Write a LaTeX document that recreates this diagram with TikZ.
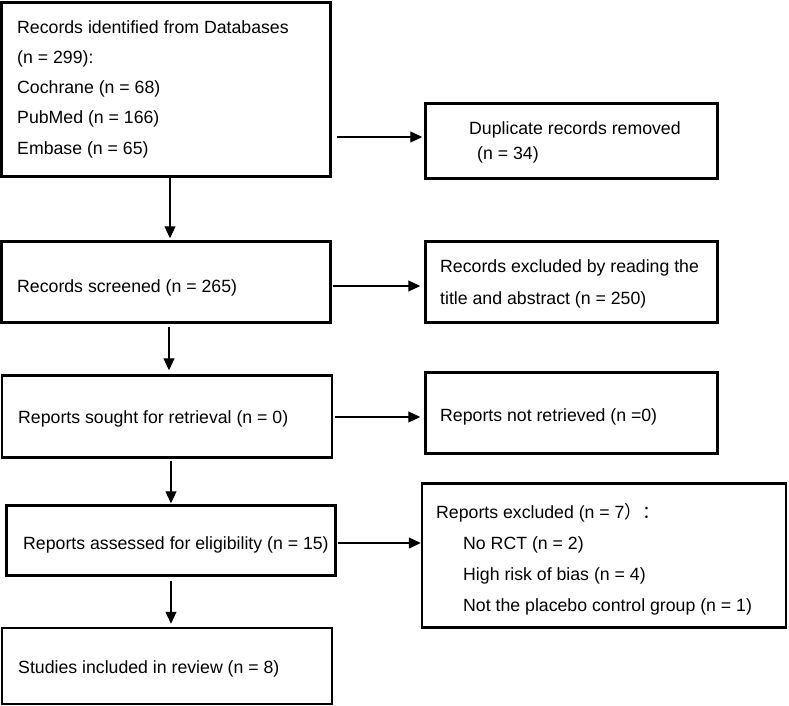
\documentclass[tikz,border=0pt]{standalone}
\usepackage{fontspec}
\setmainfont{Liberation Sans}
\newfontfamily\cjk{Noto Sans CJK SC}
\usetikzlibrary{arrows.meta}
\begin{document}
\begin{tikzpicture}[x=1pt,y=-1pt,
  box/.style={draw, line width=2.5pt, inner sep=0pt, rectangle},
  txt/.style={inner sep=0pt, anchor=west, align=left, font=\fontsize{17.7}{30.25}\selectfont},
  arr/.style={line width=1.2pt, -{Triangle[length=12pt,width=11pt]}}]
\useasboundingbox (0,0) rectangle (789,706);
% boxes
\node[box, minimum width=329pt, minimum height=174pt] (b1) at (166,89.5) {};
\node[box, minimum width=292pt, minimum height=75pt] (dup) at (571.5,141) {};
\node[box, minimum width=329pt, minimum height=81pt] (b2) at (166,282) {};
\node[box, minimum width=292pt, minimum height=81pt] (excl) at (571.5,282) {};
\node[box, minimum width=330pt, minimum height=82pt] (b3) at (167,416.5) {};
\node[box, minimum width=292pt, minimum height=81pt] (notret) at (571.5,413) {};
\node[box, minimum width=329pt, minimum height=70pt] (b4) at (171,540.5) {};
\node[box, minimum width=364pt, minimum height=144pt] (rexcl) at (604,555.5) {};
\node[box, minimum width=330pt, minimum height=76pt] (b5) at (167,666) {};
% texts
\node[txt] (t1) at (17,89) {Records identified from Databases\\(n = 299):\\Cochrane (n = 68)\\PubMed (n = 166)\\Embase (n = 65)};
\node[txt, font=\fontsize{17.7}{25}\selectfont] (tdup) at (469,142) {Duplicate records removed\\\hspace*{8pt}(n = 34)};
\node[txt] (t2) at (17,288) {Records screened (n = 265)};
\node[txt, font=\fontsize{17.7}{32}\selectfont] (texcl) at (440,284) {Records excluded by reading the\\title and abstract (n = 250)};
\node[txt] (t3) at (18,419) {Reports sought for retrieval (n = 0)};
\node[txt] (tnot) at (440,417) {Reports not retrieved (n =0)};
\node[txt] (t4) at (23,545) {Reports assessed for eligibility (n = 15)};
\node[txt, font=\fontsize{17.7}{31}\selectfont] (trex) at (436,559) {Reports excluded (n = 7{\cjk ）：}\\\hspace*{27pt}No RCT (n = 2)\\\hspace*{27pt}High risk of bias (n = 4)\\\hspace*{27pt}Not the placebo control group (n = 1)};
\node[txt] (t5) at (18,669) {Studies included in review (n = 8)};
% connector guides
\coordinate (v1) at (170,0);
\coordinate (v2) at (169,0);
\coordinate (v3) at (171,0);
\coordinate (v4) at (171,0);
\coordinate (h1) at (0,137);
\coordinate (h2) at (0,286);
\coordinate (h3) at (0,417);
\coordinate (h4) at (0,543);
% vertical arrows
\draw[arr, shorten >=2pt] (b1.south -| v1) -- (b2.north -| v1);
\draw[arr, shorten <=3pt, shorten >=4pt] (b2.south -| v2) -- (b3.north -| v2);
\draw[arr, shorten <=2pt, shorten >=1pt] (b3.south -| v3) -- (b4.north -| v3);
\draw[arr, shorten <=4pt, shorten >=3pt] (b4.south -| v4) -- (b5.north -| v4);
% horizontal arrows
\draw[arr, shorten <=5pt, shorten >=2pt] (b1.east |- h1) -- (dup.west |- h1);
\draw[arr, shorten <=1pt, shorten >=4pt] (b2.east |- h2) -- (excl.west |- h2);
\draw[arr, shorten <=2pt, shorten >=4pt] (b3.east |- h3) -- (notret.west |- h3);
\draw[arr, shorten <=1pt, shorten >=0pt] (b4.east |- h4) -- (rexcl.west |- h4);
\end{tikzpicture}
\end{document}
